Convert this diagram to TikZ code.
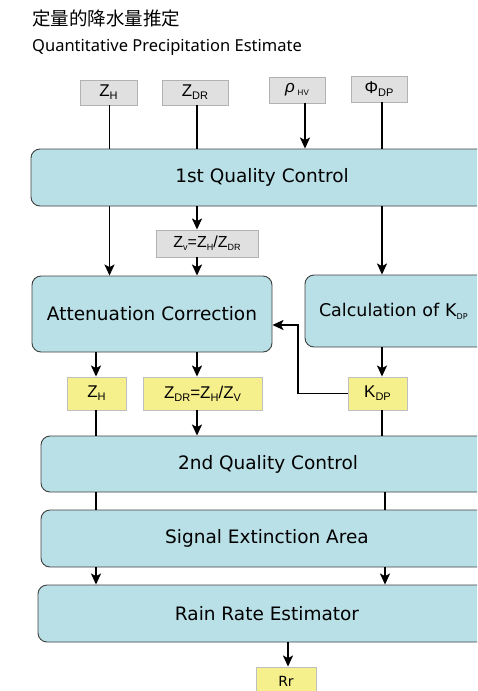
\documentclass[tikz,border=0pt]{standalone}
\usepackage{fontspec}
\usetikzlibrary{arrows.meta,calc}
\newfontfamily\jpfont{Noto Sans CJK JP}
\newfontfamily\labelfont{DejaVu Sans}
\newfontfamily\latinfont{Noto Sans}
\newfontfamily\symfont{Liberation Sans}
\definecolor{stagefill}{RGB}{185,224,231}
\definecolor{inputfill}{RGB}{224,224,224}
\definecolor{outputfill}{RGB}{246,240,140}
% lowered subscript in text mode
\newcommand{\lo}[2][11]{\raisebox{-3pt}{\fontsize{#1}{#1}\selectfont #2}}

\tikzset{
  stage/.style={draw=black!75,fill=stagefill,rounded corners=9pt,line width=0.9pt,
    inner sep=0pt,font=\labelfont\fontsize{18.5}{22}\selectfont},
  inbox/.style={draw=black!30,fill=inputfill,line width=0.9pt,inner sep=0pt,
    font=\symfont\fontsize{17}{20}\selectfont},
  outbox/.style={inbox,draw=black!25,fill=outputfill},
  wire/.style={line width=1.6pt},
  flow/.style={wire,-{Stealth[length=11pt,width=10pt,inset=2.5pt]}},
}

\begin{document}
\begin{tikzpicture}[x=1pt,y=-1pt]
  \useasboundingbox (0,0) rectangle (477,691);
  \clip (0,0) rectangle (477,691);

  \node[anchor=west,inner sep=0pt,font=\jpfont\fontsize{18.5}{22}\selectfont]
    (title) at (32,18) {定量的降水量推定};
  \node[anchor=west,inner sep=0pt,font=\latinfont\fontsize{16.5}{20}\selectfont]
    (subtitle) at (32,47) {Quantitative Precipitation Estimate};

  % radar inputs
  \node[inbox,minimum width=57pt,minimum height=25pt] (zh)  at (108.5,92.5) {Z\lo{H}};
  \node[inbox,minimum width=66pt,minimum height=25pt] (zdr) at (195,92.5) {Z\lo{DR}};
  \node[inbox,minimum width=56pt,minimum height=26pt] (rho) at (297,90)
    {{\itshape ρ}\,\lo[8]{HV}};
  \node[inbox,minimum width=56pt,minimum height=26pt] (phi) at (379,89) {Φ\lo{DP}};

  % processing stages
  \node[stage,minimum width=462pt,minimum height=57pt] (qc1) at (262,177.5) {1st Quality Control};
  \node[inbox,minimum width=102pt,minimum height=27pt,font=\symfont\fontsize{16}{18}\selectfont]
    (zv) at (207,243.5) {Z\lo[9]{v}=Z\lo[9]{H}/Z\lo[9]{DR}};
  \node[stage,minimum width=240pt,minimum height=76pt] (att) at (152,314) {Attenuation Correction};
  \node[stage,minimum width=195pt,minimum height=72pt,inner xsep=14pt,text width=167pt,
    align=left,font=\labelfont\fontsize{17.5}{21}\selectfont] (kcalc) at (402.5,311)
    {Calculation of K\lo[8]{DP}};

  \node[outbox,minimum width=59pt,minimum height=33pt]  (zhc)  at (96.5,393.5) {Z\lo{H}};
  \node[outbox,minimum width=119pt,minimum height=33pt] (zdrc) at (202.5,393.5)
    {Z\lo{DR}=Z\lo{H}/Z\lo{V}};
  \node[outbox,minimum width=59pt,minimum height=33pt]  (kdp)  at (377.5,393.5) {K\lo{DP}};

  \node[stage,minimum width=454pt,minimum height=56pt] (qc2)  at (268,464) {2nd Quality Control};
  \node[stage,minimum width=452pt,minimum height=57pt] (sig)  at (267,538.5) {Signal Extinction Area};
  \node[stage,minimum width=458pt,minimum height=57pt] (rain) at (267,613.5) {Rain Rate Estimator};
  \node[outbox,minimum width=60pt,minimum height=28pt,text depth=0pt,
    font=\labelfont\fontsize{14}{16}\selectfont] (rr) at (286,681) {Rr};

  % columns the connectors run along
  \coordinate (ca) at (109.5,0);
  \coordinate (cb) at (96,0);
  \coordinate (cc) at (197,0);
  \coordinate (cd) at (305,0);
  \coordinate (ce) at (382,0);
  \coordinate (cf) at (385,0);
  \coordinate (cg) at (288,0);

  \draw[wire] (zh.south -| ca) -- (qc1.north -| ca);
  \draw[wire] (zdr.south -| cc) -- (qc1.north -| cc);
  \draw[flow] (rho.south -| cd) -- (qc1.north -| cd);
  \draw[wire] (phi.south -| ce) -- (qc1.north -| ce);

  \draw[flow] (qc1.south -| ca) -- (att.north -| ca);
  \draw[flow] (qc1.south -| cc) -- (zv.north -| cc);
  \draw[flow] (zv.south -| cc) -- (att.north -| cc);
  \draw[flow] (qc1.south -| ce) -- (kcalc.north -| ce);

  \draw[flow] (att.south -| cb) -- (zhc.north -| cb);
  \draw[flow] (att.south -| cc) -- (zdrc.north -| cc);
  \draw[flow] (kcalc.south -| ce) -- (kdp.north -| ce);
  \coordinate (bend) at (298,325);
  \draw[flow] (kdp.west) -| (bend) -- (bend -| att.east);

  \draw[wire] (zhc.south -| cb) -- (qc2.north -| cb);
  \draw[flow] (zdrc.south -| cc) -- (qc2.north -| cc);
  \draw[wire] (kdp.south -| ce) -- (qc2.north -| ce);

  \draw[wire] (qc2.south -| cb) -- (sig.north -| cb);
  \draw[wire] (qc2.south -| cf) -- (sig.north -| cf);
  \draw[flow] (sig.south -| cb) -- (rain.north -| cb);
  \draw[flow] (sig.south -| cf) -- (rain.north -| cf);
  \draw[flow] (rain.south -| cg) -- (rr.north -| cg);
\end{tikzpicture}
\end{document}
